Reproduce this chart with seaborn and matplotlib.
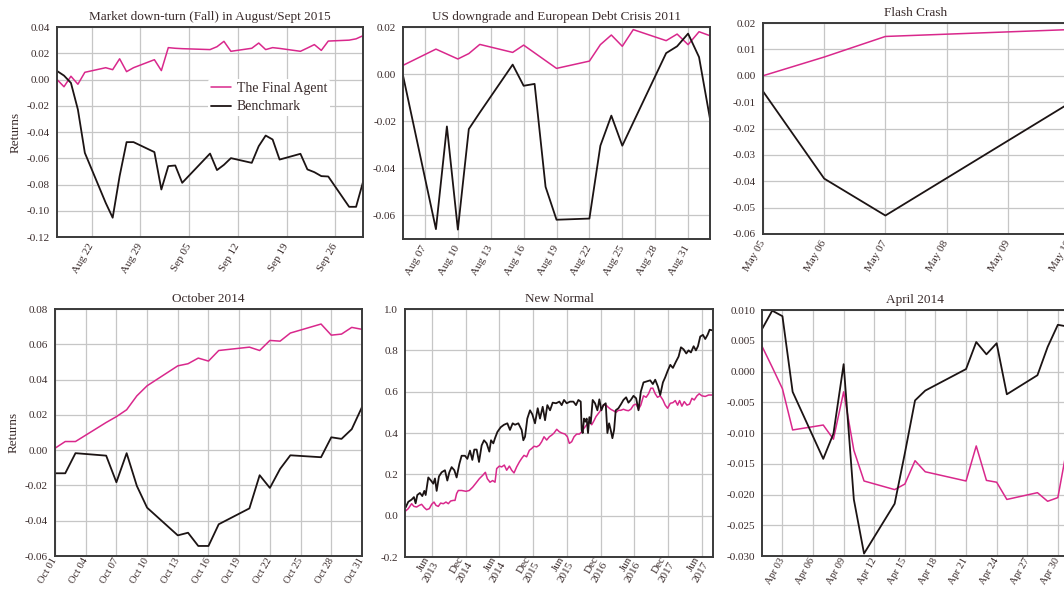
import numpy as np
import pandas as pd
import matplotlib
matplotlib.use("Agg")
import matplotlib.pyplot as plt
import matplotlib.dates as mdates
import seaborn as sns

# Market down-turn (Fall) in August/Sept 2015
fall_dates = ["2015-08-17", "2015-08-18", "2015-08-19", "2015-08-20", "2015-08-21",
              "2015-08-24", "2015-08-25", "2015-08-26", "2015-08-27", "2015-08-28",
              "2015-08-31", "2015-09-01", "2015-09-02", "2015-09-03", "2015-09-04",
              "2015-09-08", "2015-09-09", "2015-09-10", "2015-09-11", "2015-09-14",
              "2015-09-15", "2015-09-16", "2015-09-17", "2015-09-18", "2015-09-21",
              "2015-09-22", "2015-09-23", "2015-09-24", "2015-09-25", "2015-09-28",
              "2015-09-29", "2015-09-30"]
fall_agent = [0.0, -0.0055, 0.0025, -0.0036, 0.0055, 0.009, 0.0075, 0.0158, 0.006, 0.009,
              0.0151, 0.0068, 0.0243, 0.0238, 0.0235, 0.0228, 0.025, 0.0291, 0.0215, 0.0238,
              0.0278, 0.0228, 0.0243, 0.0237, 0.0215, 0.024, 0.0266, 0.0222, 0.0293, 0.030,
              0.031, 0.0334]
fall_bench = [0.0065, 0.003, -0.0026, -0.0229, -0.0559, -0.094, -0.1053, -0.0736, -0.0477, -0.0477,
              -0.0553, -0.0838, -0.066, -0.0655, -0.0787, -0.0564, -0.069, -0.065, -0.0599, -0.0635,
              -0.0508, -0.0427, -0.0457, -0.061, -0.0566, -0.0685, -0.0706, -0.0736, -0.0739, -0.097,
              -0.097, -0.078]

# US downgrade and European Debt Crisis 2011
us_dates = ["2011-08-05", "2011-08-08", "2011-08-09", "2011-08-10", "2011-08-11", "2011-08-12",
            "2011-08-15", "2011-08-16", "2011-08-17", "2011-08-18", "2011-08-19", "2011-08-22",
            "2011-08-23", "2011-08-24", "2011-08-25", "2011-08-26", "2011-08-29", "2011-08-30",
            "2011-08-31", "2011-09-01", "2011-09-02"]
us_agent = [0.0037, 0.0106, 0.0085, 0.0064, 0.0087, 0.0126, 0.0092, 0.0123, 0.009, 0.0057,
            0.0024, 0.0055, 0.0125, 0.0166, 0.0118, 0.0189, 0.0142, 0.017, 0.0125, 0.018, 0.0163]
us_bench = [-0.0007, -0.066, -0.0223, -0.0662, -0.0234, -0.0164, 0.004, -0.005, -0.0042, -0.048,
            -0.062, -0.0615, -0.0305, -0.0177, -0.0305, -0.0206, 0.0089, 0.0118, 0.0172, 0.0072,
            -0.0191]

# Flash Crash
flash_dates = ["2010-05-05", "2010-05-06", "2010-05-07", "2010-05-10"]
flash_agent = [0.0, 0.0071, 0.0149, 0.0175]
flash_bench = [-0.0059, -0.039, -0.053, -0.0105]

# October 2014
oct_dates = ["2014-10-01", "2014-10-02", "2014-10-03", "2014-10-06", "2014-10-07", "2014-10-08",
             "2014-10-09", "2014-10-10", "2014-10-13", "2014-10-14", "2014-10-15", "2014-10-16",
             "2014-10-17", "2014-10-20", "2014-10-21", "2014-10-22", "2014-10-23", "2014-10-24",
             "2014-10-27", "2014-10-28", "2014-10-29", "2014-10-30", "2014-10-31"]
oct_agent = [0.0011, 0.0049, 0.0049, 0.0157, 0.019, 0.0229, 0.0308, 0.0365, 0.0478, 0.049,
             0.0522, 0.0505, 0.0565, 0.0584, 0.0565, 0.0622, 0.0618, 0.0664, 0.0715, 0.0652,
             0.0658, 0.0696, 0.0685]
oct_bench = [-0.0131, -0.0131, -0.0017, -0.0031, -0.0182, -0.0017, -0.0203, -0.0326, -0.0483,
             -0.0468, -0.0543, -0.0543, -0.042, -0.033, -0.0142, -0.0214, -0.0106, -0.0029,
             -0.004, 0.0073, 0.0064, 0.0119, 0.0244]

# New Normal (x given as fractional years)
nn_bench_t = [2013.106, 2013.145, 2013.195, 2013.229, 2013.254, 2013.279, 2013.318, 2013.353,
              2013.383, 2013.403, 2013.442, 2013.482, 2013.516, 2013.541, 2013.566, 2013.600,
              2013.640, 2013.689, 2013.724, 2013.754, 2013.788, 2013.828, 2013.862, 2013.902,
              2013.936, 2013.986, 2014.021, 2014.060, 2014.095, 2014.124, 2014.159, 2014.194,
              2014.233, 2014.268, 2014.307, 2014.347, 2014.372, 2014.406, 2014.431, 2014.466,
              2014.515, 2014.564, 2014.614, 2014.653, 2014.693, 2014.728, 2014.777, 2014.826,
              2014.851, 2014.876, 2014.910, 2014.950, 2014.985, 2015.024, 2015.064, 2015.098,
              2015.138, 2015.173, 2015.207, 2015.247, 2015.286, 2015.336, 2015.385, 2015.420,
              2015.454, 2015.494, 2015.543, 2015.593, 2015.632, 2015.667, 2015.702, 2015.716,
              2015.731, 2015.751, 2015.771, 2015.790, 2015.810, 2015.830, 2015.850, 2015.879,
              2015.914, 2015.949, 2015.978, 2016.008, 2016.038, 2016.072, 2016.097, 2016.122,
              2016.146, 2016.171, 2016.196, 2016.220, 2016.260, 2016.299, 2016.334, 2016.374,
              2016.408, 2016.443, 2016.483, 2016.522, 2016.557, 2016.591, 2016.631, 2016.680,
              2016.730, 2016.769, 2016.804, 2016.844, 2016.878, 2016.918, 2016.952, 2016.987,
              2017.027, 2017.066, 2017.110, 2017.150, 2017.185, 2017.224, 2017.264, 2017.298,
              2017.333, 2017.373, 2017.407, 2017.437, 2017.471, 2017.511, 2017.545, 2017.580,
              2017.610, 2017.649]
nn_bench = [0.04, 0.067, 0.078, 0.09, 0.06, 0.10, 0.11, 0.095, 0.12, 0.10, 0.185, 0.17, 0.155,
            0.18, 0.12, 0.19, 0.21, 0.22, 0.17, 0.21, 0.235, 0.22, 0.185, 0.25, 0.29, 0.29, 0.275,
            0.315, 0.27, 0.32, 0.32, 0.26, 0.34, 0.365, 0.35, 0.31, 0.365, 0.35, 0.375, 0.405,
            0.428, 0.44, 0.447, 0.415, 0.447, 0.44, 0.447, 0.415, 0.365, 0.382, 0.47, 0.51, 0.49,
            0.447, 0.52, 0.47, 0.527, 0.462, 0.535, 0.51, 0.547, 0.544, 0.552, 0.535, 0.56, 0.544,
            0.552, 0.552, 0.535, 0.56, 0.552, 0.415, 0.40, 0.47, 0.455, 0.47, 0.40, 0.477, 0.447,
            0.56, 0.544, 0.51, 0.563, 0.51, 0.535, 0.544, 0.40, 0.447, 0.415, 0.375, 0.415, 0.51,
            0.52, 0.54, 0.56, 0.573, 0.547, 0.56, 0.58, 0.568, 0.51, 0.60, 0.645, 0.65, 0.655,
            0.637, 0.658, 0.625, 0.584, 0.645, 0.67, 0.70, 0.73, 0.715, 0.745, 0.77, 0.815, 0.805,
            0.785, 0.80, 0.79, 0.82, 0.80, 0.82, 0.867, 0.875, 0.855, 0.875, 0.90, 0.897]
nn_agent_t = [2013.106, 2013.145, 2013.195, 2013.229, 2013.269, 2013.309, 2013.343, 2013.383,
              2013.417, 2013.457, 2013.492, 2013.526, 2013.556, 2013.590, 2013.625, 2013.665,
              2013.704, 2013.739, 2013.773, 2013.813, 2013.838, 2013.862, 2013.887, 2013.936,
              2014.001, 2014.050, 2014.100, 2014.149, 2014.199, 2014.248, 2014.288, 2014.317,
              2014.357, 2014.396, 2014.431, 2014.456, 2014.495, 2014.530, 2014.569, 2014.604,
              2014.644, 2014.678, 2014.713, 2014.752, 2014.792, 2014.826, 2014.861, 2014.900,
              2014.940, 2014.975, 2015.009, 2015.049, 2015.088, 2015.123, 2015.158, 2015.197,
              2015.237, 2015.272, 2015.306, 2015.346, 2015.385, 2015.420, 2015.469, 2015.504,
              2015.533, 2015.568, 2015.603, 2015.642, 2015.682, 2015.716, 2015.751, 2015.790,
              2015.830, 2015.865, 2015.899, 2015.929, 2015.964, 2015.998, 2016.038, 2016.077,
              2016.112, 2016.146, 2016.186, 2016.225, 2016.260, 2016.295, 2016.334, 2016.374,
              2016.408, 2016.443, 2016.483, 2016.522, 2016.557, 2016.591, 2016.631, 2016.670,
              2016.705, 2016.740, 2016.769, 2016.804, 2016.838, 2016.878, 2016.918, 2016.952,
              2016.987, 2017.027, 2017.066, 2017.101, 2017.135, 2017.165, 2017.199, 2017.234,
              2017.274, 2017.313, 2017.348, 2017.382, 2017.422, 2017.456, 2017.496, 2017.545,
              2017.595, 2017.649]
nn_agent = [0.023, 0.034, 0.058, 0.045, 0.042, 0.05, 0.055, 0.039, 0.029, 0.034, 0.055, 0.066,
            0.05, 0.045, 0.061, 0.058, 0.066, 0.058, 0.071, 0.074, 0.074, 0.107, 0.122, 0.122,
            0.118, 0.122, 0.138, 0.158, 0.179, 0.195, 0.21, 0.179, 0.162, 0.17, 0.162, 0.228,
            0.24, 0.236, 0.245, 0.22, 0.24, 0.22, 0.207, 0.236, 0.26, 0.277, 0.292, 0.285, 0.316,
            0.325, 0.336, 0.333, 0.341, 0.358, 0.382, 0.366, 0.382, 0.39, 0.40, 0.418, 0.406,
            0.40, 0.395, 0.382, 0.35, 0.358, 0.382, 0.395, 0.395, 0.406, 0.423, 0.44, 0.455, 0.44,
            0.46, 0.48, 0.495, 0.51, 0.535, 0.535, 0.524, 0.515, 0.508, 0.50, 0.51, 0.51, 0.515,
            0.51, 0.508, 0.515, 0.535, 0.54, 0.515, 0.535, 0.58, 0.573, 0.59, 0.617, 0.617, 0.59,
            0.573, 0.58, 0.56, 0.535, 0.52, 0.544, 0.547, 0.557, 0.535, 0.557, 0.53, 0.552, 0.535,
            0.54, 0.568, 0.56, 0.58, 0.59, 0.58, 0.577, 0.584, 0.584]
nn_ticks = ["2013-06-30", "2013-12-31", "2014-06-30", "2014-12-31", "2015-06-30",
            "2015-12-31", "2016-06-30", "2016-12-31", "2017-06-30"]
nn_ticklabels = ["Jun\n2013", "Dec\n2014", "Jun\n2014", "Dec\n2015", "Jun\n2015",
                 "Dec\n2016", "Jun\n2016", "Dec\n2017", "Jun\n2017"]

# April 2014
apr_dates = ["2014-04-01", "2014-04-02", "2014-04-03", "2014-04-04", "2014-04-07", "2014-04-08",
             "2014-04-09", "2014-04-10", "2014-04-11", "2014-04-14", "2014-04-15", "2014-04-16",
             "2014-04-17", "2014-04-21", "2014-04-22", "2014-04-23", "2014-04-24", "2014-04-25",
             "2014-04-28", "2014-04-29", "2014-04-30", "2014-05-01"]
apr_agent = [0.0041, 0.0007, -0.0028, -0.0095, -0.0087, -0.011, -0.0033, -0.0128, -0.0178,
             -0.0192, -0.0183, -0.0145, -0.0163, -0.0178, -0.0121, -0.0177, -0.018, -0.0208,
             -0.0197, -0.0211, -0.0205, -0.0115]
apr_bench = [0.0069, 0.0099, 0.009, -0.0033, -0.0142, -0.0101, 0.0012, -0.0208, -0.0296,
             -0.0215, -0.0133, -0.0047, -0.0031, 0.0004, 0.0048, 0.0028, 0.0046, -0.0037,
             -0.0006, 0.004, 0.0076, 0.0073]

PINK = "#d9288c"
BLACK = "#1c1414"
TEXT = "#3a2c2c"

sns.set_theme(style="whitegrid")
plt.rcParams["font.family"] = ["Liberation Serif", "DejaVu Serif"]
plt.rcParams["axes.unicode_minus"] = False
plt.rcParams["text.color"] = TEXT
plt.rcParams["axes.labelcolor"] = TEXT
plt.rcParams["xtick.color"] = TEXT
plt.rcParams["ytick.color"] = TEXT


def frac_year(vals):
    out = []
    for v in vals:
        y = int(v)
        start = pd.Timestamp(y, 1, 1)
        out.append(start + (pd.Timestamp(y + 1, 1, 1) - start) * (v - y))
    return pd.to_datetime(out)


def draw(ax, xa, agent, xb, bench, title):
    sns.lineplot(x=xa, y=agent, ax=ax, color=PINK, lw=1.1, label="The Final Agent")
    sns.lineplot(x=xb, y=bench, ax=ax, color=BLACK, lw=1.3, label="Benchmark")
    ax.set_title(title, fontsize=9.5, pad=5, color=TEXT)
    ax.grid(True, color="#c6c6c6", lw=0.9)
    for s in ax.spines.values():
        s.set_color("#3a3a3a")
        s.set_linewidth(1.4)
    ax.tick_params(length=0, labelsize=8, pad=5)
    ax.set_xlabel("")
    ax.set_ylabel("")
    ax.get_legend().remove()


fig = plt.figure(figsize=(10.64, 5.90), dpi=100)
ax1 = fig.add_axes([0.0536, 0.5983, 0.2876, 0.3559])
ax2 = fig.add_axes([0.3788, 0.5949, 0.2885, 0.3593])
ax3 = fig.add_axes([0.7171, 0.6034, 0.2876, 0.3576])
ax4 = fig.add_axes([0.0517, 0.0576, 0.2885, 0.4186])
ax5 = fig.add_axes([0.3806, 0.0559, 0.2895, 0.4203])
ax6 = fig.add_axes([0.7162, 0.0576, 0.2876, 0.4169])

d = pd.to_datetime(fall_dates)
draw(ax1, d, fall_agent, d, fall_bench, "Market down-turn (Fall) in August/Sept 2015")
ax1.set_xlim(d[0], d[-1])
ax1.set_ylim(-0.12, 0.04)
ax1.set_yticks(np.arange(-0.12, 0.041, 0.02))
ax1.yaxis.set_major_formatter(plt.FormatStrFormatter("%.2f"))
ax1.set_xticks(pd.date_range("2015-08-22", "2015-09-26", freq="7D"))
ax1.set_ylabel("Returns", fontsize=9.5)
leg = ax1.legend(loc="upper left", bbox_to_anchor=(0.47, 0.785), fontsize=10, frameon=True,
                 facecolor="white", edgecolor="none", framealpha=1, handlelength=1.5,
                 handletextpad=0.4, borderpad=0.2, labelspacing=0.4)

d = pd.to_datetime(us_dates)
draw(ax2, d, us_agent, d, us_bench, "US downgrade and European Debt Crisis 2011")
ax2.set_xlim(d[0], d[-1])
ax2.set_ylim(-0.0702, 0.02)
ax2.set_yticks(np.arange(-0.06, 0.021, 0.02))
ax2.yaxis.set_major_formatter(plt.FormatStrFormatter("%.2f"))
ax2.set_xticks(pd.date_range("2011-08-07", "2011-08-31", freq="3D"))

d = pd.to_datetime(flash_dates)
draw(ax3, d, flash_agent, d, flash_bench, "Flash Crash")
ax3.set_xlim(d[0], d[-1])
ax3.set_ylim(-0.06, 0.02)
ax3.set_yticks(np.arange(-0.06, 0.021, 0.01))
ax3.yaxis.set_major_formatter(plt.FormatStrFormatter("%.2f"))
ax3.set_xticks(pd.date_range("2010-05-05", "2010-05-10", freq="1D"))

d = pd.to_datetime(oct_dates)
draw(ax4, d, oct_agent, d, oct_bench, "October 2014")
ax4.set_xlim(d[0], d[-1])
ax4.set_ylim(-0.06, 0.08)
ax4.set_yticks(np.arange(-0.06, 0.081, 0.02))
ax4.yaxis.set_major_formatter(plt.FormatStrFormatter("%.2f"))
ax4.set_xticks(pd.date_range("2014-10-01", "2014-10-31", freq="3D"))
ax4.set_ylabel("Returns", fontsize=9.5)

ta = frac_year(nn_agent_t)
tb = frac_year(nn_bench_t)
draw(ax5, ta, nn_agent, tb, nn_bench, "New Normal")
ax5.set_xlim(frac_year([2013.096])[0], frac_year([2017.66])[0])
ax5.set_ylim(-0.2, 1.0)
ax5.set_yticks(np.arange(-0.2, 1.01, 0.2))
ax5.yaxis.set_major_formatter(plt.FormatStrFormatter("%.1f"))
ax5.set_xticks(pd.to_datetime(nn_ticks))
ax5.set_xticklabels(nn_ticklabels)

d = pd.to_datetime(apr_dates)
draw(ax6, d, apr_agent, d, apr_bench, "April 2014")
ax6.set_xlim(d[0], d[-1])
ax6.set_ylim(-0.030, 0.010)
ax6.set_yticks(np.arange(-0.030, 0.0101, 0.005))
ax6.yaxis.set_major_formatter(plt.FormatStrFormatter("%.3f"))
ax6.set_xticks(pd.date_range("2014-04-03", "2014-04-30", freq="3D"))

for ax in [ax1, ax2, ax3, ax4, ax6]:
    ax.xaxis.set_major_formatter(mdates.DateFormatter("%b %d"))

for ax in [ax4, ax5, ax6]:
    ax.tick_params(axis="x", pad=2)

for ax in [ax1, ax2, ax3, ax4, ax5, ax6]:
    for lab in ax.get_xticklabels():
        lab.set_rotation(60)
        lab.set_ha("right")
        lab.set_rotation_mode("anchor")
        lab.set_va("center")
    if ax in [ax4, ax6]:
        for lab in ax.get_xticklabels():
            lab.set_fontsize(7.5)

fig.savefig("out.png", dpi=100)
